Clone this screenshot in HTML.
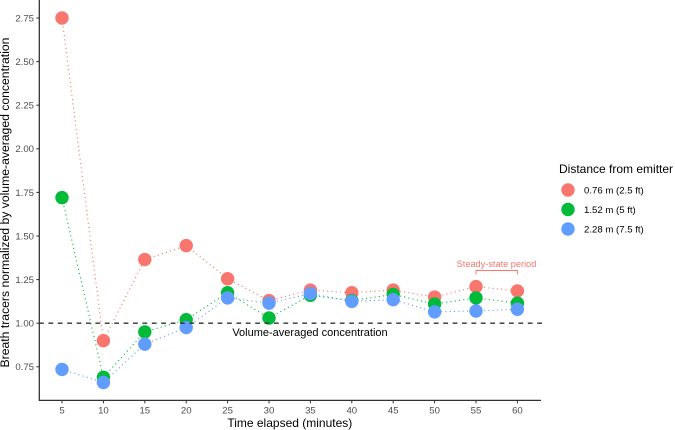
<!DOCTYPE html>
<html>
<head>
<meta charset="utf-8">
<style>
html,body{margin:0;padding:0;background:#fff;}
svg{display:block;font-family:"Liberation Sans",sans-serif;}
</style>
</head>
<body>
<svg id="chart" width="675" height="430" viewBox="0 0 675 430" xmlns="http://www.w3.org/2000/svg">
<rect width="675" height="430" fill="#fff"/>
<g id="marks"></g>
<g id="axes"></g>
<g id="notes"></g>
<g id="legend"></g>
</svg>
<script>
var minutes = [5, 10, 15, 20, 25, 30, 35, 40, 45, 50, 55, 60];
var near = [2.75, 0.90, 1.365, 1.445, 1.255, 1.13, 1.19, 1.175, 1.19, 1.15, 1.21, 1.185];
var middle = [1.72, 0.69, 0.95, 1.02, 1.175, 1.03, 1.16, 1.13, 1.165, 1.11, 1.145, 1.115];
var far = [0.735, 0.66, 0.88, 0.975, 1.145, 1.115, 1.17, 1.125, 1.135, 1.065, 1.07, 1.08];
var yTickLabels = ["0.75", "1.00", "1.25", "1.50", "1.75", "2.00", "2.25", "2.50", "2.75"];
var seriesLabels = ["0.76 m (2.5 ft)", "1.52 m (5 ft)", "2.28 m (7.5 ft)"];
var seriesColors = ["#F8766D", "#00BA38", "#619CFF"];
var referenceLevel = [1.0];
var steadyStart = [55];
var steadyEnd = [60];

var NS = "http://www.w3.org/2000/svg";
function x(v) { return 62 + (v - 5) * 8.28; }
function y(v) { return 366.8 - (v - 0.75) * 174.4; }
function make(parent, tag, attrs, text) {
  var el = document.createElementNS(NS, tag);
  for (var k in attrs) { el.setAttribute(k, attrs[k]); }
  if (text !== undefined) { el.textContent = text; }
  parent.appendChild(el);
  return el;
}
var marks = document.getElementById("marks");
var axes = document.getElementById("axes");
var notes = document.getElementById("notes");
var legend = document.getElementById("legend");
var allSeries = [near, middle, far];
var seriesNames = ["near", "middle", "far"];

allSeries.forEach(function (vals, s) {
  var pts = vals.map(function (v, i) { return x(minutes[i]) + "," + y(v); }).join(" ");
  var line = make(marks, "polyline", { points: pts, fill: "none", stroke: seriesColors[s], "stroke-width": 1.1, "stroke-dasharray": "1.1 3.2" });
  
  
});
allSeries.forEach(function (vals, s) {
  vals.forEach(function (v, i) {
    var dot = make(marks, "circle", { cx: x(minutes[i]), cy: y(v), r: 6.7, fill: seriesColors[s] });
    
    
  });
});

var refLine = make(marks, "line", { x1: 39, x2: 542.5, y1: y(referenceLevel[0]), y2: y(referenceLevel[0]), stroke: "#333", "stroke-width": 1.3, "stroke-dasharray": "4.8 4.6" });



var yAxis = make(axes, "line", { x1: 39.3, x2: 39.3, y1: 0, y2: 401, stroke: "#333", "stroke-width": 1.3 });


var xAxis = make(axes, "line", { x1: 39, x2: 541, y1: 400.4, y2: 400.4, stroke: "#333", "stroke-width": 1.3 });



yTickLabels.forEach(function (lab) {
  var v = parseFloat(lab);
  var tick = make(axes, "line", { x1: 36.3, x2: 39.3, y1: y(v), y2: y(v), stroke: "#333", "stroke-width": 1 });
  
  
  var label = make(axes, "text", { x: 34, y: y(v) + 3.4, "text-anchor": "end", "font-size": 9.6, fill: "#4d4d4d" }, lab);
  
  
});
minutes.forEach(function (m) {
  var tick = make(axes, "line", { x1: x(m), x2: x(m), y1: 400.4, y2: 403.4, stroke: "#333", "stroke-width": 1 });
  
  
  var label = make(axes, "text", { x: x(m), y: 413.5, "text-anchor": "middle", "font-size": 9.6, fill: "#4d4d4d" }, String(m));
  
  
});

var xTitle = make(axes, "text", { x: 289.8, y: 427, "text-anchor": "middle", "font-size": 12, fill: "#000" }, "Time elapsed (minutes)");


var yTitle = make(axes, "text", { transform: "translate(9,202.5) rotate(-90)", "text-anchor": "middle", "font-size": 12.2, fill: "#000" }, "Breath tracers normalized by volume-averaged concentration");



var refLabel = make(notes, "text", { x: 310, y: 336, "text-anchor": "middle", "font-size": 11, fill: "#000" }, "Volume-averaged concentration");


var steadyLabel = make(notes, "text", { x: 496.5, y: 267, "text-anchor": "middle", "font-size": 9.2, fill: "#F8766D" }, "Steady-state period");


var bracket = make(notes, "polyline", { points: x(steadyStart[0]) + ",274.5 " + x(steadyStart[0]) + ",270.5 " + x(steadyEnd[0]) + ",270.5 " + x(steadyEnd[0]) + ",274.5", fill: "none", stroke: "#F8766D", "stroke-width": 0.9 });



var legendTitle = make(legend, "text", { x: 559, y: 173, "font-size": 12, fill: "#000" }, "Distance from emitter");


seriesLabels.forEach(function (lab, s) {
  var cy = 190 + s * 19.5;
  var key = make(legend, "circle", { cx: 568, cy: cy, r: 6.7, fill: seriesColors[s] });
  
  
  var text = make(legend, "text", { x: 584, y: cy + 3.4, "font-size": 9.6, fill: "#000" }, lab);
  
  
});
</script>
</body>
</html>
